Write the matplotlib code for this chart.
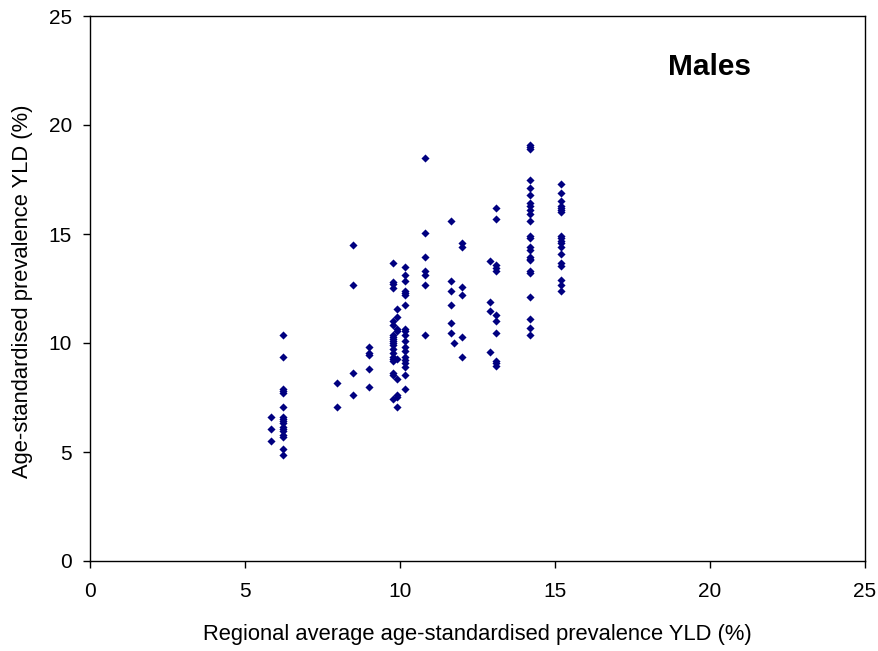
import matplotlib
matplotlib.use("Agg")
import matplotlib.pyplot as plt

plt.rcParams['font.family'] = ['Liberation Sans', 'DejaVu Sans']

# Column x-positions (regional average) and corresponding country values
x_groups = [5.83, 6.23, 7.96, 8.47, 8.99, 9.76, 9.89, 10.15, 10.8, 11.63, 11.75, 12.0, 12.9, 13.1, 14.2, 15.2]
y_groups = [
    [6.59, 6.04, 5.49],
    [10.35, 9.34, 7.88, 7.79, 7.7, 7.05, 6.59, 6.5, 6.4, 6.31, 6.13, 6.04, 5.95, 5.77, 5.67, 5.12, 4.85],
    [8.15, 7.05],
    [14.5, 12.65, 8.61, 7.6],
    [9.8, 9.53, 9.44, 8.79, 7.97],
    [13.66, 12.78, 12.69, 12.51, 11.0, 10.81, 10.35, 10.26, 10.17, 10.08, 9.99, 9.9, 9.71, 9.53, 9.34, 9.25, 9.16, 8.61, 8.52, 7.42],
    [11.55, 11.18, 10.63, 10.54, 9.25, 8.34, 7.6, 7.51, 7.08],
    [13.47, 13.1, 12.83, 12.37, 12.28, 12.19, 11.73, 10.63, 10.54, 10.35, 10.08, 9.8, 9.62, 9.34, 9.22, 9.07, 8.91, 8.52, 7.88],
    [18.5, 15.03, 13.93, 13.29, 13.1, 12.65, 10.35],
    [15.58, 12.83, 12.37, 11.73, 10.9, 10.45],
    [9.99],
    [14.57, 14.39, 12.55, 12.19, 10.26, 9.34],
    [13.76, 11.9, 11.45, 9.6],
    [16.2, 15.7, 13.56, 13.44, 13.32, 11.28, 11.0, 10.45, 9.19, 9.07, 8.96],
    [19.08, 19.0, 18.9, 17.5, 17.1, 16.8, 16.4, 16.3, 16.1, 15.9, 15.6, 14.9, 14.8, 14.4, 14.25, 13.96, 13.87, 13.8, 13.3, 13.2, 12.1, 11.1, 10.7, 10.35],
    [17.3, 16.9, 16.5, 16.3, 16.2, 16.1, 16.0, 14.9, 14.8, 14.7, 14.6, 14.4, 14.1, 13.65, 13.55, 12.9, 12.65, 12.4],
]
x_ticks = [0, 5, 10, 15, 20, 25]
y_ticks = [0, 5, 10, 15, 20, 25]

xs, ys = [], []
for xv, yl in zip(x_groups, y_groups):
    for yv in yl:
        xs.append(xv)
        ys.append(yv)

fig = plt.figure(figsize=(8.79, 6.51), dpi=100)
ax = fig.add_axes([90/879, 1-561/651, (865-90)/879, (561-16)/651])
ax.scatter(xs, ys, marker='D', s=17, color='#000080', linewidths=0, zorder=3)

ax.set_xlim(0, 25)
ax.set_ylim(0, 25)
ax.set_xticks(x_ticks)
ax.set_yticks(y_ticks)
ax.tick_params(direction='out', length=5, width=1, labelsize=15)
ax.tick_params(axis='x', pad=10)
ax.tick_params(axis='y', pad=8)
for s in ax.spines.values():
    s.set_linewidth(1)
    s.set_color('black')

ax.set_xlabel('Regional average age-standardised prevalence YLD (%)', fontsize=15.8, labelpad=17)
ax.set_ylabel('Age-standardised prevalence YLD (%)', fontsize=15.8)
ax.yaxis.set_label_coords(-0.073, 0.495)
ax.text(0.8, 0.907, 'Males', transform=ax.transAxes, ha='center', va='center',
        fontsize=21.5, fontweight='bold')

fig.savefig('out.png', dpi=100)
